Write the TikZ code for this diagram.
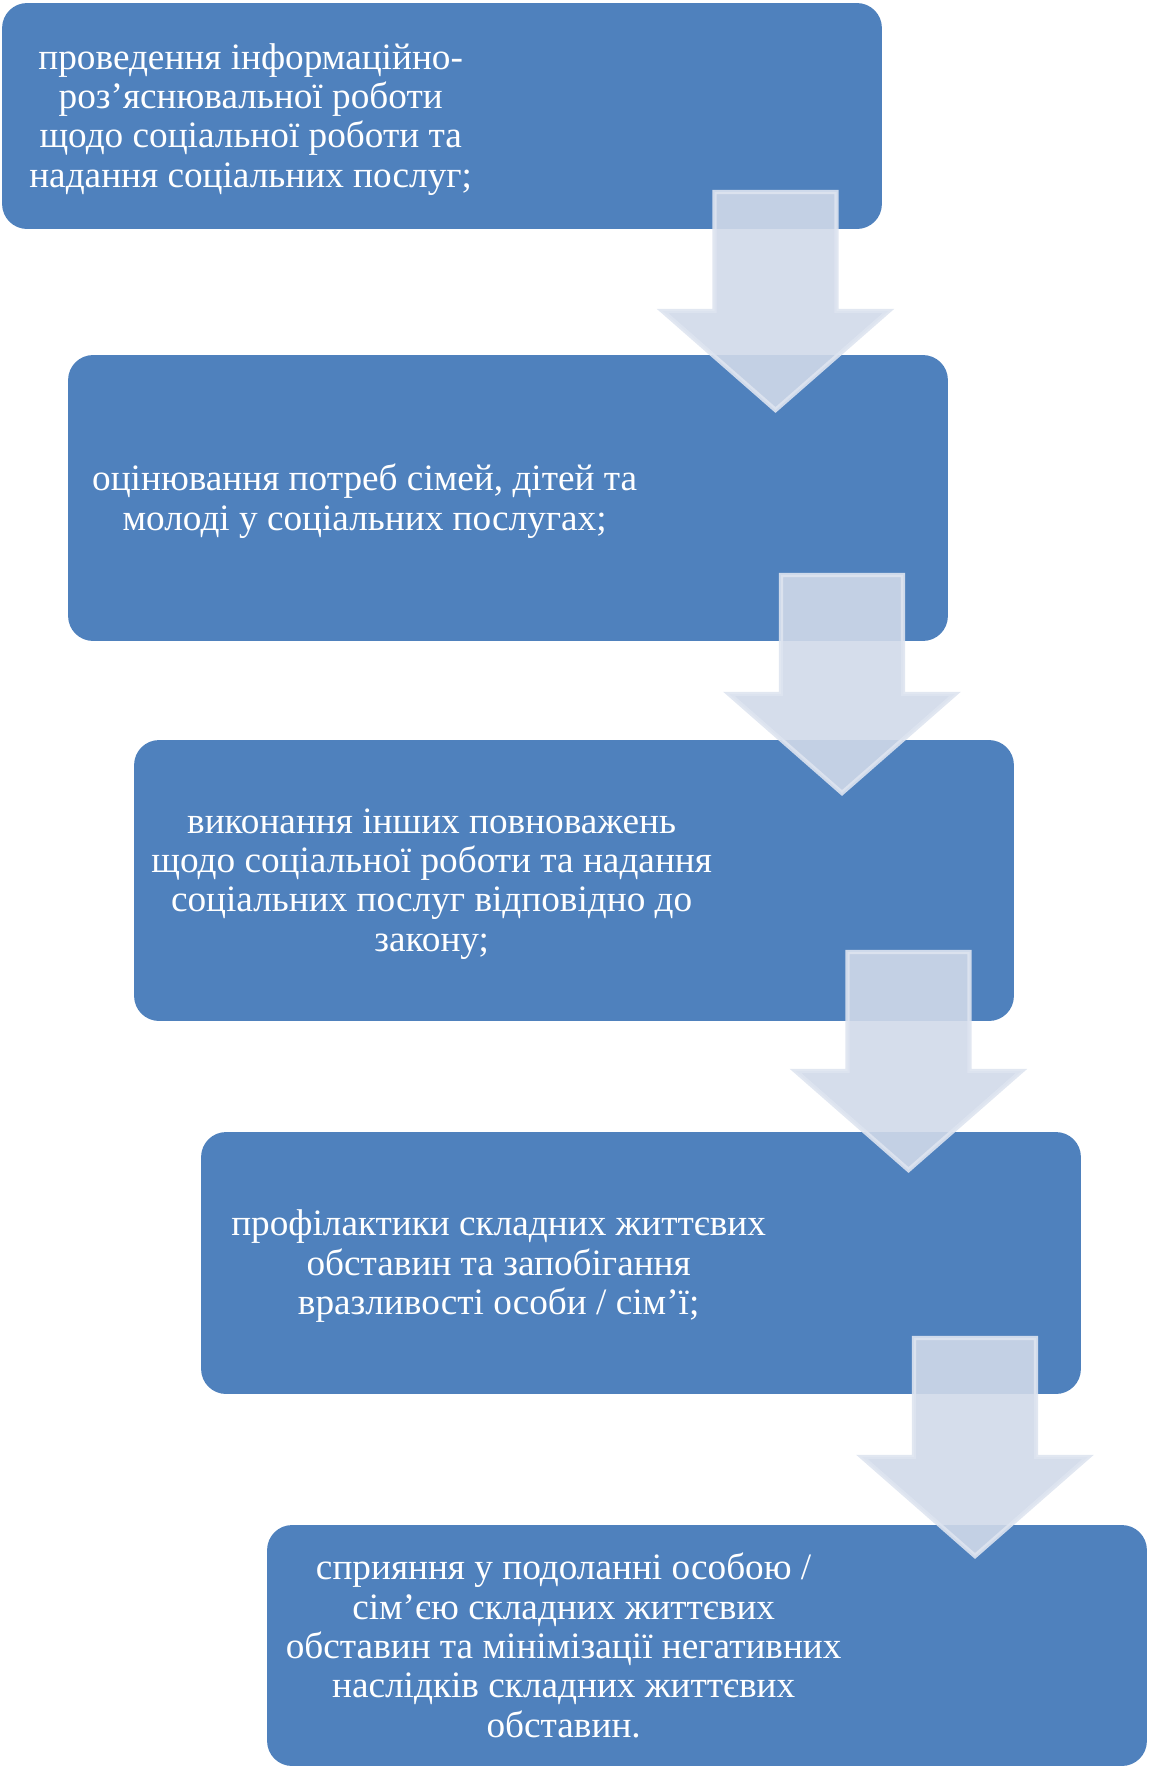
\documentclass[tikz,border=0pt]{standalone}
\usepackage{fontspec}
\setmainfont{Liberation Serif}
\definecolor{boxblue}{RGB}{79,129,189}
\definecolor{arrowfill}{RGB}{208,217,233}
\definecolor{arrowline}{RGB}{222,228,240}
\begin{document}
\begin{tikzpicture}[
    x=0.02cm, y=-0.02cm,
    step_box/.style={rectangle, rounded corners=0.5cm, fill=boxblue, minimum width=17.6cm, inner sep=0},
    box_text/.style={align=center, text=white, inner sep=0, yshift=-1.9pt, font=\fontsize{21.2}{22.4}\selectfont},
    block_arrow/.style={fill=arrowfill, fill opacity=0.9, draw=arrowline, draw opacity=0.9, line width=2.5pt, line join=miter}
]
\useasboundingbox (0,0) rectangle (1149,1769);
% boxes
\node[step_box, minimum height=4.52cm] (b1) at (442,116) {};
\node[step_box, minimum height=5.72cm] (b2) at (508,498) {};
\node[step_box, minimum height=5.62cm] (b3) at (574,880.5) {};
\node[step_box, minimum height=5.24cm] (b4) at (641,1263) {};
\node[step_box, minimum height=4.82cm] (b5) at (707,1645.5) {};
% texts
\node[box_text, xshift=4.98cm] (t1) at (b1.west) {проведення інформаційно-\\роз’яснювальної роботи\\щодо соціальної роботи та\\надання соціальних послуг;};
\node[box_text, xshift=5.94cm] (t2) at (b2.west) {оцінювання потреб сімей, дітей та\\молоді у соціальних послугах;};
\node[box_text, xshift=5.96cm] (t3) at (b3.west) {виконання інших повноважень\\щодо соціальної роботи та надання\\соціальних послуг відповідно до\\закону;};
\node[box_text, xshift=5.96cm] (t4) at (b4.west) {профілактики складних життєвих\\обставин та запобігання\\вразливості особи / сім’ї;};
\node[box_text, xshift=5.94cm, yshift=1.9pt] (t5) at (b5.west) {сприяння у подоланні особою /\\сім’єю складних життєвих\\обставин та мінімізації негативних\\наслідків складних життєвих\\обставин.};
% arrows
\coordinate (a1) at (775.5,192);
\coordinate (a2) at (842,575);
\coordinate (a3) at (908.5,952);
\coordinate (a4) at (975,1338);
\foreach \a in {a1,a2,a3,a4}
    \draw[block_arrow] (\a) ++(-61,0) -- ++(122,0) -- ++(0,119) -- ++(52,0)
        -- ++(-113,99) -- ++(-113,-99) -- ++(52,0) -- cycle;
\end{tikzpicture}
\end{document}
